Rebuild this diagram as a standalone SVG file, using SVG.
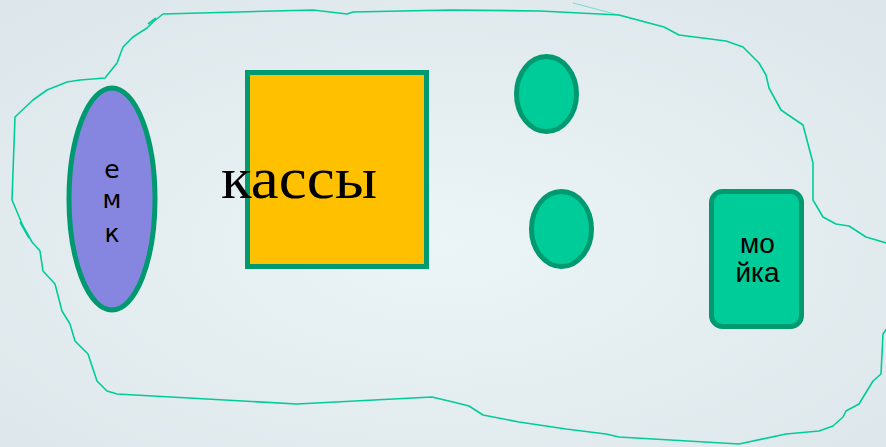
<svg xmlns="http://www.w3.org/2000/svg" width="886" height="447" viewBox="0 0 886 447">
<defs>
<radialGradient id="bg" cx="0.5" cy="0.55" r="0.7">
<stop offset="0" stop-color="#EBF5F7"/>
<stop offset="1" stop-color="#DDE7EB"/>
</radialGradient>
</defs>
<style>
.outline{fill:none;stroke:#00CC99;stroke-width:1.6;stroke-linejoin:round}
.node{stroke:#009970;stroke-width:5}
.sans{font-family:"DejaVu Sans","Liberation Sans",sans-serif;fill:#000}
</style>
<rect width="886" height="447" fill="url(#bg)"/>
<g id="outline">
<path class="outline" d="M163,14 L313,10 L347,14 L353,12 L450,10 L540,11 L619,15 L664,27 L679,35 L726,41 L743,47 L759,63 L766,75 L769,88 L781,110 L803,125 L813,163 L813,200 L823,217 L836,224 L849,226 L866,237 L890,244 M890,324 L883,334 L881,374 L873,381 L859,404 L846,411 L843,417 L833,426 L819,431 L786,434 L739,444 L619,437 L606,434 L566,429 L519,422 L483,415 L469,406 L453,402 L432,397 L297,404 L117,394 L107,391 L97,381 L88,354 L75,341 L70,324 L62,311 L55,284 L43,271 L40,251 L32,242 L23,226 L12,200 L15,117 L33,100 L47,90 L67,82 L80,80 L105,78 L117,63 L123,47 L133,37 L147,28 L153,22 L163,14"/>
<path class="outline" d="M20,222 L29,238" stroke-width="1"/>
<path class="outline" d="M148,24 L156,18" stroke-width="1"/>
<path d="M573,3 L649,23" fill="none" stroke="#00CC99" stroke-width="0.8" opacity="0.6"/>
</g>
<g id="emk">
<ellipse class="node" cx="112" cy="199" rx="43" ry="111" fill="#8686E0"/>
<text class="sans" x="112" y="178" font-size="25" text-anchor="middle">е</text>
<text class="sans" x="112" y="208" font-size="25" text-anchor="middle">м</text>
<text class="sans" x="112" y="242" font-size="25" text-anchor="middle">к</text>
</g>
<g id="kassy">
<rect class="node" x="247.5" y="72.5" width="179" height="194" fill="#FFC000"/>
<text x="221" y="198" font-family="'Liberation Serif','Times New Roman',serif" font-size="60" textLength="156" lengthAdjust="spacingAndGlyphs">кассы</text>
</g>
<g id="circle1">
<ellipse class="node" cx="546.5" cy="94" rx="30" ry="37.5" fill="#00CC99"/>
</g>
<g id="circle2">
<ellipse class="node" cx="561.5" cy="229" rx="30" ry="37.5" fill="#00CC99"/>
</g>
<g id="moika">
<rect class="node" x="711.5" y="191.5" width="90" height="135" rx="11" fill="#00CC99"/>
<text x="757.5" y="253" font-family="'Liberation Sans',Arial,sans-serif" font-size="28" text-anchor="middle">мо</text>
<text x="757.5" y="282" font-family="'Liberation Sans',Arial,sans-serif" font-size="28" text-anchor="middle">йка</text>
</g>
</svg>
